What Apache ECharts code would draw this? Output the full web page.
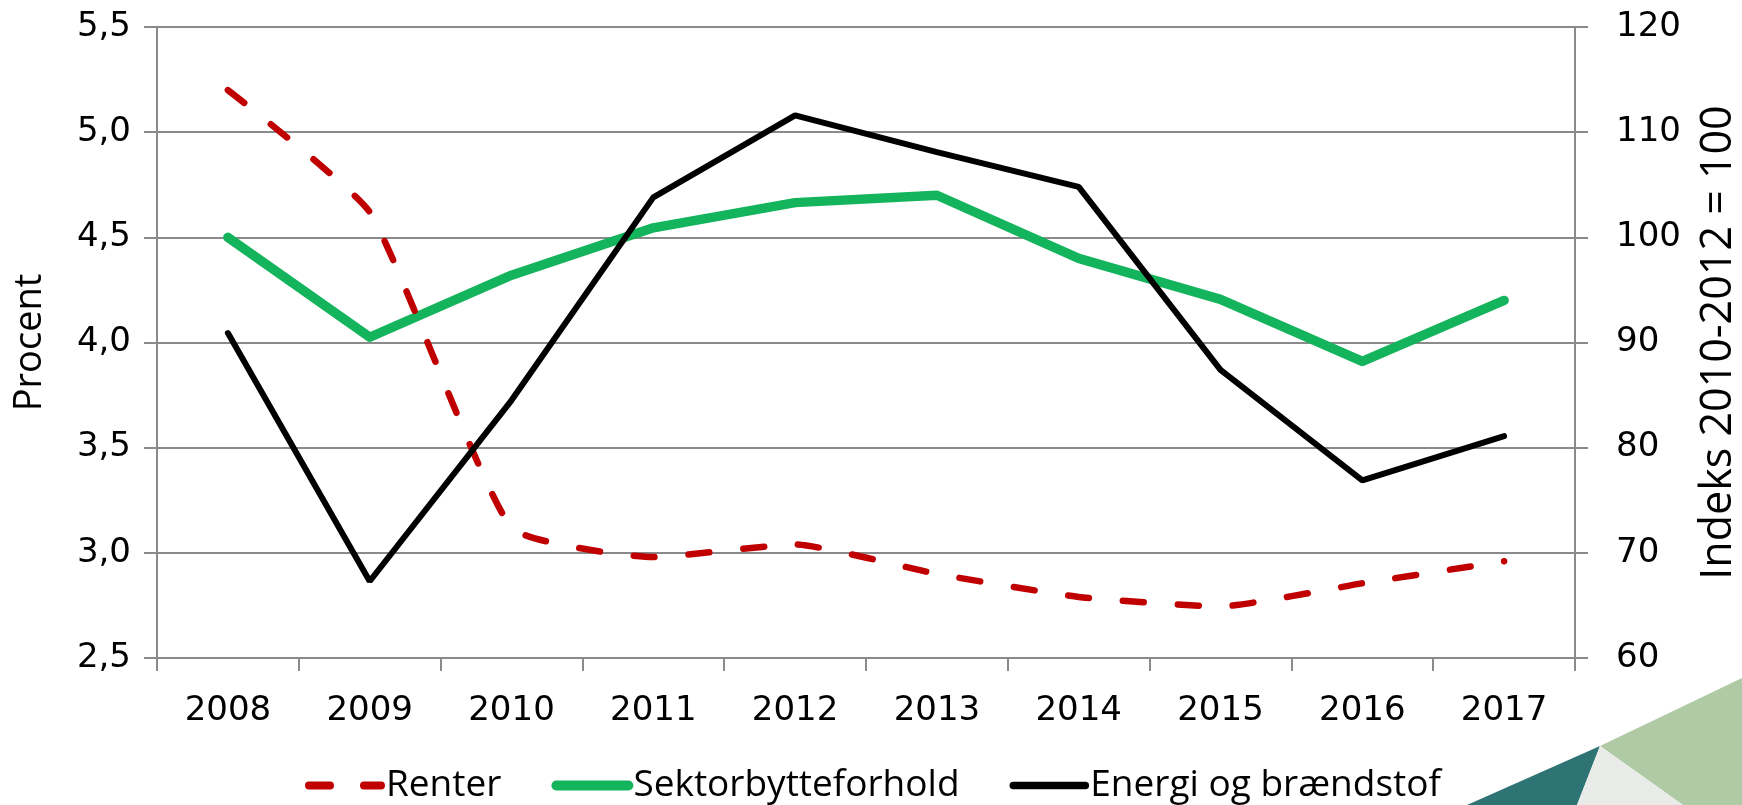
<!DOCTYPE html>
<html>
<head>
<meta charset="utf-8">
<script src="https://cdn.jsdelivr.net/npm/echarts@6/dist/echarts.min.js"></script>
<style>
    html, body { margin: 0; padding: 0; background: #fff; }
    #chart { width: 1742px; height: 805px; }
</style>
</head>
<body>
<div id="chart"></div>
<script>
// data
var years = ['2008', '2009', '2010', '2011', '2012', '2013', '2014', '2015', '2016', '2017'];
var renter = [5.20, 4.62, 3.12, 2.98, 3.04, 2.90, 2.79, 2.745, 2.855, 2.96];
var sektor = [100.0, 90.5, 96.4, 100.9, 103.3, 104.0, 98.0, 94.1, 88.2, 94.0];
var energi = [90.9, 67.3, 84.5, 103.8, 111.6, 108.1, 104.8, 87.4, 76.9, 81.1];
var leftTicks = { min: 2.5, max: 5.5, step: 0.5 };
var rightTicks = { min: 60, max: 120, step: 10 };

var tickFont = 'DejaVu Sans, Verdana, sans-serif';
var nameFont = '"Open Sans", sans-serif';
var grey = '#8a8a8a';

var myChart = echarts.init(document.getElementById('chart'));

var option = {
    animation: false,
    grid: { left: 157, right: 167, top: 27, bottom: 147, outerBoundsMode: 'none', containLabel: false },
    legend: {
        left: 300,
        top: 762,
        itemWidth: 72,
        itemHeight: 14,
        itemGap: 50,
        itemStyle: { opacity: 0 },
        lineStyle: { width: 'inherit', type: 'inherit', cap: 'round' },
        textStyle: { fontFamily: nameFont, fontSize: 37, color: '#000' },
        data: [
            { name: 'Renter', lineStyle: { width: 8 } },
            { name: 'Sektorbytteforhold', lineStyle: { width: 10 } },
            { name: 'Energi og brændstof', lineStyle: { width: 7.5 } }
        ]
    },
    xAxis: {
        type: 'category',
        data: years,
        boundaryGap: true,
        axisLine: { lineStyle: { color: grey, width: 2 } },
        axisTick: { show: true, length: 13, interval: 0, lineStyle: { color: grey, width: 2 } },
        axisLabel: { margin: 36, fontFamily: tickFont, fontSize: 34, color: '#000' }
    },
    yAxis: [{
        type: 'value',
        name: 'Procent',
        nameLocation: 'middle',
        nameGap: 108,
        nameTextStyle: { fontFamily: nameFont, fontSize: 38, color: '#000' },
        min: leftTicks.min,
        max: leftTicks.max,
        interval: leftTicks.step,
        axisLine: { show: true, lineStyle: { color: grey, width: 2 } },
        axisTick: { show: true, length: 13, lineStyle: { color: grey, width: 2 } },
        splitLine: { show: true, lineStyle: { color: grey, width: 2 } },
        axisLabel: {
            margin: 26, fontFamily: tickFont, fontSize: 34, color: '#000',
            formatter: function (v) { return v.toFixed(1).replace('.', ','); }
        }
    }, {
        type: 'value',
        name: 'Indeks 2010-2012 = 100',
        nameLocation: 'middle',
        nameGap: 122,
        nameRotate: 90,
        nameTextStyle: { fontFamily: nameFont, fontSize: 43, color: '#000' },
        min: rightTicks.min,
        max: rightTicks.max,
        interval: rightTicks.step,
        axisLine: { show: true, lineStyle: { color: grey, width: 2 } },
        axisTick: { show: true, length: 13, lineStyle: { color: grey, width: 2 } },
        splitLine: { show: false },
        axisLabel: { margin: 41, fontFamily: tickFont, fontSize: 34, color: '#000' }
    }],
    series: [{
        name: 'Renter',
        type: 'line',
        yAxisIndex: 0,
        data: renter,
        symbol: 'none',
        smooth: 0.15,
        itemStyle: { color: '#c00000' },
        lineStyle: { color: '#c00000', width: 6.5, type: [21, 34], cap: 'round' },
        z: 3
    }, {
        name: 'Sektorbytteforhold',
        type: 'line',
        yAxisIndex: 1,
        data: sektor,
        symbol: 'none',
        itemStyle: { color: '#13b45c' },
        lineStyle: { color: '#13b45c', width: 9.5, cap: 'round', join: 'round' },
        z: 2
    }, {
        name: 'Energi og brændstof',
        type: 'line',
        yAxisIndex: 1,
        data: energi,
        symbol: 'none',
        itemStyle: { color: '#000' },
        lineStyle: { color: '#000', width: 6, cap: 'round' },
        z: 4
    }],
    // logo corner, bottom right
    graphic: [
        { type: 'polygon', shape: { points: [[1600, 746], [1742, 678], [1742, 805], [1683, 805]] }, style: { fill: '#b1caa6' }, silent: true },
        { type: 'polygon', shape: { points: [[1467, 805], [1600, 746], [1577, 805]] }, style: { fill: '#2f7474' }, silent: true },
        { type: 'polygon', shape: { points: [[1600, 746], [1683, 805], [1577, 805]] }, style: { fill: '#e9ebe9' }, silent: true }
    ]
};

myChart.setOption(option);
</script>
</body>
</html>
